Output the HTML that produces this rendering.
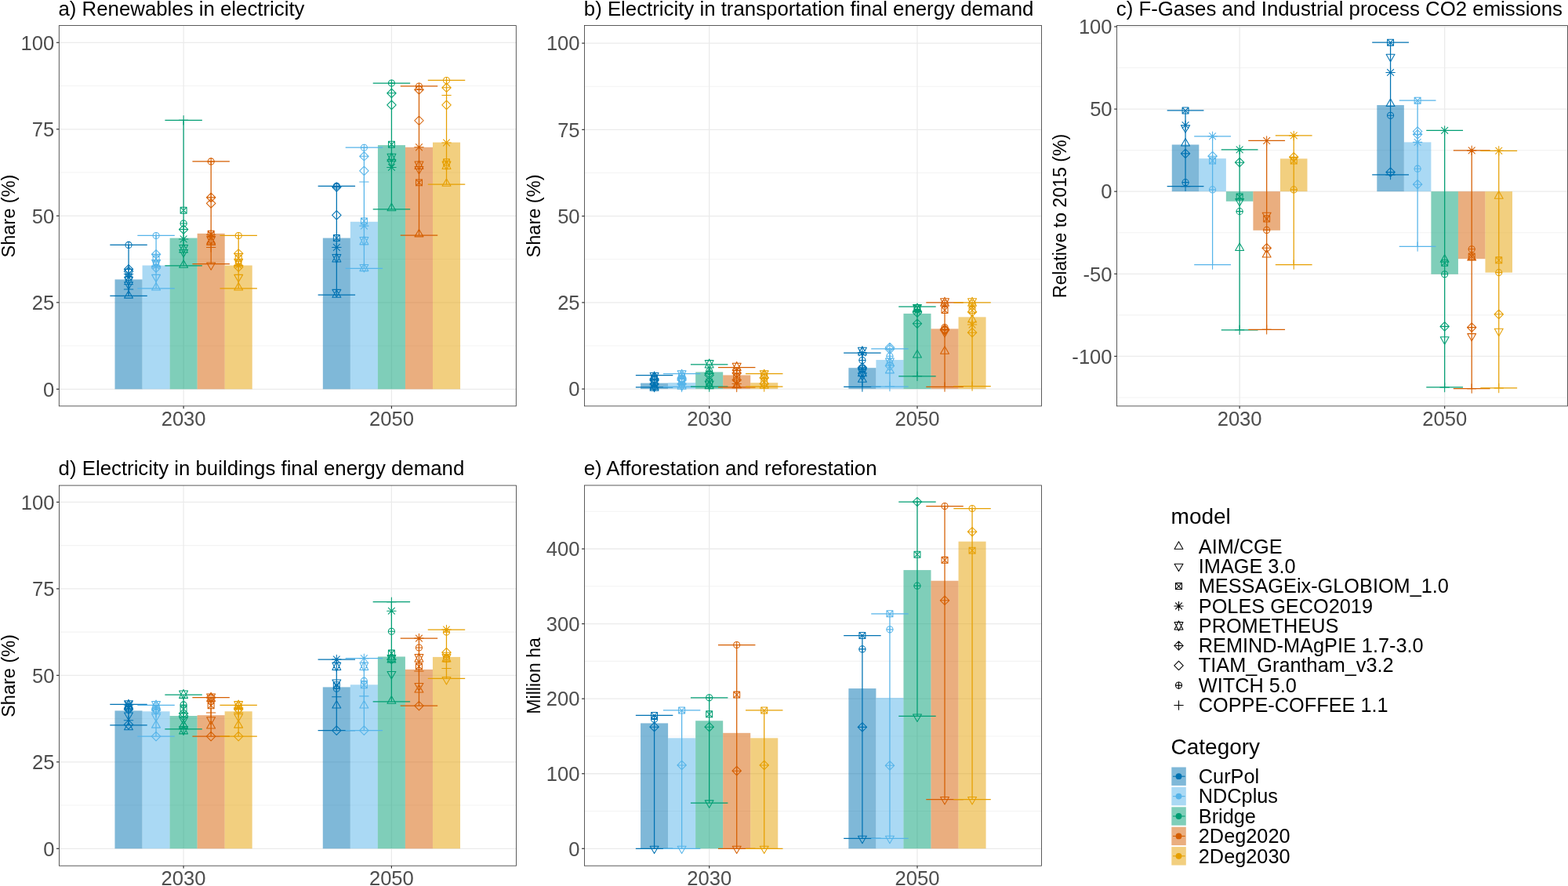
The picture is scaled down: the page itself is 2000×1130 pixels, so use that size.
<!DOCTYPE html>
<html><head><meta charset="utf-8"><title>Scenario indicators</title>
<style>
html,body{margin:0;padding:0;background:#fff;}
body{width:2000px;height:1130px;overflow:hidden;}
svg{display:block;}
text{font-family:"Liberation Sans",Arial,Helvetica,sans-serif;}
.tk{font-size:25.6px;fill:#4D4D4D;}
.ti{font-size:25.8px;fill:#000;}
.yl{font-size:24.2px;fill:#000;}
.lg{font-size:25.3px;fill:#000;}
.m{fill:none;stroke-width:1.05px;stroke-linecap:round;stroke-linejoin:round;}
.lt{font-size:27.2px;fill:#000;}
</style></head><body>
<svg width="2000" height="1130" viewBox="0 0 2000 1130">
<rect width="2000" height="1130" fill="#fff"/>
<line x1="75.3" x2="658.3" y1="441.05" y2="441.05" stroke="#F3F3F3" stroke-width="1.1"/><line x1="75.3" x2="658.3" y1="330.55" y2="330.55" stroke="#F3F3F3" stroke-width="1.1"/><line x1="75.3" x2="658.3" y1="220.05" y2="220.05" stroke="#F3F3F3" stroke-width="1.1"/><line x1="75.3" x2="658.3" y1="109.55" y2="109.55" stroke="#F3F3F3" stroke-width="1.1"/><line x1="75.3" x2="658.3" y1="496.3" y2="496.3" stroke="#EBEBEB" stroke-width="1.3"/><line x1="75.3" x2="658.3" y1="385.8" y2="385.8" stroke="#EBEBEB" stroke-width="1.3"/><line x1="75.3" x2="658.3" y1="275.3" y2="275.3" stroke="#EBEBEB" stroke-width="1.3"/><line x1="75.3" x2="658.3" y1="164.8" y2="164.8" stroke="#EBEBEB" stroke-width="1.3"/><line x1="75.3" x2="658.3" y1="54.3" y2="54.3" stroke="#EBEBEB" stroke-width="1.3"/><line x1="234.13" x2="234.13" y1="32.6" y2="517.9" stroke="#EBEBEB" stroke-width="1.3"/><line x1="499.44" x2="499.44" y1="32.6" y2="517.9" stroke="#EBEBEB" stroke-width="1.3"/><rect x="146.52" y="356.41" width="35.04" height="139.89" fill="#0072B2" fill-opacity="0.5"/><rect x="181.57" y="338.51" width="35.04" height="157.79" fill="#56B4E9" fill-opacity="0.5"/><rect x="216.61" y="303.59" width="35.04" height="192.71" fill="#009E73" fill-opacity="0.5"/><rect x="251.65" y="297.84" width="35.04" height="198.46" fill="#D55E00" fill-opacity="0.5"/><rect x="286.69" y="338.51" width="35.04" height="157.79" fill="#E69F00" fill-opacity="0.5"/><rect x="411.83" y="303.59" width="35.04" height="192.71" fill="#0072B2" fill-opacity="0.5"/><rect x="446.88" y="282.81" width="35.04" height="213.49" fill="#56B4E9" fill-opacity="0.5"/><rect x="481.92" y="185.13" width="35.04" height="311.17" fill="#009E73" fill-opacity="0.5"/><rect x="516.96" y="187.78" width="35.04" height="308.52" fill="#D55E00" fill-opacity="0.5"/><rect x="552" y="181.6" width="35.04" height="314.7" fill="#E69F00" fill-opacity="0.5"/><path d="M140.32 312.43H187.77M164.05 312.43V377.4M140.32 377.4H187.77" stroke="#0072B2" stroke-width="1.25" fill="none"/><path d="M175.36 300.49H222.82M199.09 300.49V367.9M175.36 367.9H222.82" stroke="#56B4E9" stroke-width="1.25" fill="none"/><path d="M210.4 153.31H257.86M234.13 153.31V338.95M210.4 338.95H257.86" stroke="#009E73" stroke-width="1.25" fill="none"/><path d="M245.44 205.91H292.9M269.17 205.91V336.74M245.44 336.74H292.9" stroke="#D55E00" stroke-width="1.25" fill="none"/><path d="M280.49 300.49H327.94M304.21 300.49V367.9M280.49 367.9H327.94" stroke="#E69F00" stroke-width="1.25" fill="none"/><path d="M405.63 237.29H453.08M429.36 237.29V376.08M405.63 376.08H453.08" stroke="#0072B2" stroke-width="1.25" fill="none"/><path d="M440.67 188.23H488.13M464.4 188.23V342.48M440.67 342.48H488.13" stroke="#56B4E9" stroke-width="1.25" fill="none"/><path d="M475.71 106.01H523.17M499.44 106.01V266.9M475.71 266.9H523.17" stroke="#009E73" stroke-width="1.25" fill="none"/><path d="M510.75 109.99H558.21M534.48 109.99V300.05M510.75 300.05H558.21" stroke="#D55E00" stroke-width="1.25" fill="none"/><path d="M545.8 102.48H593.25M569.52 102.48V235.08M545.8 235.08H593.25" stroke="#E69F00" stroke-width="1.25" fill="none"/><g class="m" stroke="#0072B2"><path d="M160 312.43H168.1M164.05 308.38V316.48M164.05 337.64L169.77 343.37L164.05 349.1L158.32 343.37ZM158.32 343.37H169.77M164.05 337.64V349.1M164.05 340.29L169.77 346.02L164.05 351.75L158.32 346.02ZM160 345.51L168.1 353.61M160 353.61L168.1 345.51M158.32 349.56H169.77M164.05 343.83V355.28M160.08 349.56h7.94v7.94h-7.94ZM160.08 349.56L168.01 357.5M160.08 357.5L168.01 349.56M164.05 364.25L169.5 353.23L158.59 353.23ZM164.05 351.66L169.5 362.68L158.59 362.68ZM164.05 369.11L169.5 359.67L158.59 359.67ZM158.32 369H169.77M164.05 363.28V374.73M164.05 370.66L169.5 380.11L158.59 380.11Z"/><circle cx="164.05" cy="312.43" r="4.05"/></g><g class="m" stroke="#56B4E9"><path d="M195.04 300.49H203.14M199.09 296.44V304.54M199.09 318.63L204.82 324.36L199.09 330.09L193.36 324.36ZM193.36 324.36H204.82M199.09 318.63V330.09M195.12 326.14h7.94v7.94h-7.94ZM195.12 326.14L203.06 334.08M195.12 334.08L203.06 326.14M199.09 342.59L204.54 331.57L193.63 331.57ZM199.09 330L204.54 341.02L193.63 341.02ZM195.04 335.34L203.14 343.44M195.04 343.44L203.14 335.34M193.36 339.39H204.82M199.09 333.66V345.12M199.09 335.87L204.82 341.6L199.09 347.33L193.36 341.6ZM199.09 359.83L204.54 350.38L193.63 350.38ZM199.09 360.5L204.54 369.94L193.63 369.94Z"/><circle cx="199.09" cy="300.49" r="4.05"/></g><g class="m" stroke="#009E73"><path d="M228.4 153.31H239.86M234.13 147.58V159.04M230.16 264.26h7.94v7.94h-7.94ZM230.16 264.26L238.1 272.2M230.16 272.2L238.1 264.26M230.08 285.02H238.18M234.13 280.97V289.07M234.13 286.81L239.86 292.54L234.13 298.27L228.4 292.54ZM228.4 292.54H239.86M234.13 286.81V298.27M230.08 300.86L238.18 308.96M230.08 308.96L238.18 300.86M228.4 304.91H239.86M234.13 299.19V310.64M234.13 323.59L239.58 312.57L228.68 312.57ZM234.13 310.99L239.58 322.01L228.68 322.01ZM234.13 328.01L239.58 318.56L228.68 318.56ZM234.13 331.77L239.58 341.21L228.68 341.21Z"/><circle cx="234.13" cy="285.02" r="4.05"/></g><g class="m" stroke="#D55E00"><path d="M265.12 205.91H273.22M269.17 201.86V209.96M269.17 246.15L274.9 251.87L269.17 257.6L263.44 251.87ZM263.44 251.87H274.9M269.17 246.15V257.6M269.17 253.66L274.9 259.39L269.17 265.12L263.44 259.39ZM265.2 294.31h7.94v7.94h-7.94ZM265.2 294.31L273.14 302.25M265.2 302.25L273.14 294.31M265.12 295.12L273.22 303.22M265.12 303.22L273.22 295.12M263.44 299.17H274.9M269.17 293.44V304.9M269.17 312.54L274.63 301.52L263.72 301.52ZM269.17 299.94L274.63 310.96L263.72 310.96ZM269.17 303.04L274.63 312.48L263.72 312.48ZM263.44 315.52H274.9M269.17 309.79V321.25M269.17 344.36L274.63 334.91L263.72 334.91Z"/><circle cx="269.17" cy="205.91" r="4.05"/></g><g class="m" stroke="#E69F00"><path d="M300.16 300.49H308.26M304.21 296.44V304.54M304.21 317.75L309.94 323.48L304.21 329.21L298.49 323.48ZM298.49 323.48H309.94M304.21 317.75V329.21M300.25 325.26h7.94v7.94h-7.94ZM300.25 325.26L308.18 333.19M300.25 333.19L308.18 325.26M304.21 341.27L309.67 330.25L298.76 330.25ZM304.21 328.67L309.67 339.69L298.76 339.69ZM300.16 334.46L308.26 342.56M300.16 342.56L308.26 334.46M298.49 338.51H309.94M304.21 332.78V344.23M304.21 334.99L309.94 340.72L304.21 346.44L298.49 340.72ZM304.21 359.83L309.67 350.38L298.76 350.38ZM304.21 360.5L309.67 369.94L298.76 369.94Z"/><circle cx="304.21" cy="300.49" r="4.05"/></g><g class="m" stroke="#0072B2"><path d="M425.31 237.29H433.41M429.36 233.24V241.34M429.36 232.89L435.08 238.61L429.36 244.34L423.63 238.61ZM423.63 238.61H435.08M429.36 232.89V244.34M429.36 268.69L435.08 274.42L429.36 280.14L423.63 274.42ZM425.39 299.62h7.94v7.94h-7.94ZM425.39 299.62L433.32 307.56M425.39 307.56L433.32 299.62M425.31 311.47L433.41 319.57M425.31 319.57L433.41 311.47M423.63 315.52H435.08M429.36 309.79V321.25M429.36 335.52L434.81 324.5L423.9 324.5ZM429.36 322.93L434.81 333.95L423.9 333.95ZM429.36 378.84L434.81 369.39L423.9 369.39ZM429.36 369.78L434.81 379.23L423.9 379.23Z"/><circle cx="429.36" cy="237.29" r="4.05"/></g><g class="m" stroke="#56B4E9"><path d="M460.35 188.23H468.45M464.4 184.18V192.28M464.4 193.55L470.13 199.28L464.4 205L458.67 199.28ZM458.67 199.28H470.13M464.4 193.55V205M464.4 212.11L470.13 217.84L464.4 223.57L458.67 217.84ZM458.67 231.98H470.13M464.4 226.26V237.71M460.43 277.96h7.94v7.94h-7.94ZM460.43 277.96L468.37 285.9M460.43 285.9L468.37 277.96M460.35 284.07L468.45 292.17M460.35 292.17L468.45 284.07M458.67 288.12H470.13M464.4 282.39V293.85M464.4 313.42L469.85 302.4L458.94 302.4ZM464.4 300.83L469.85 311.85L458.94 311.85ZM464.4 347.01L469.85 337.57L458.94 337.57ZM464.4 336.19L469.85 345.63L458.94 345.63Z"/><circle cx="464.4" cy="188.23" r="4.05"/></g><g class="m" stroke="#009E73"><path d="M495.39 106.01H503.49M499.44 101.96V110.06M499.44 113.1L505.17 118.83L499.44 124.56L493.71 118.83ZM493.71 118.83H505.17M499.44 113.1V124.56M499.44 128.13L505.17 133.86L499.44 139.59L493.71 133.86ZM495.47 180.28h7.94v7.94h-7.94ZM495.47 180.28L503.41 188.22M495.47 188.22L503.41 180.28M499.44 207.34L504.89 196.32L493.99 196.32ZM499.44 194.75L504.89 205.77L493.99 205.77ZM499.44 213.09L504.89 203.64L493.99 203.64ZM495.39 209.37L503.49 217.47M495.39 217.47L503.49 209.37M493.71 213.42H505.17M499.44 207.69V219.15M499.44 259.28L504.89 268.73L493.99 268.73Z"/><circle cx="499.44" cy="106.01" r="4.05"/></g><g class="m" stroke="#D55E00"><path d="M530.43 109.99H538.53M534.48 105.94V114.04M534.48 108.68L540.21 114.41L534.48 120.14L528.75 114.41ZM528.75 114.41H540.21M534.48 108.68V120.14M534.48 148.02L540.21 153.75L534.48 159.48L528.75 153.75ZM530.43 183.73L538.53 191.83M530.43 191.83L538.53 183.73M528.75 187.78H540.21M534.48 182.06V193.51M534.48 217.07L539.94 206.04L529.03 206.04ZM534.48 204.47L539.94 215.49L529.03 215.49ZM534.48 221.93L539.94 212.48L529.03 212.48ZM530.51 228.9h7.94v7.94h-7.94ZM530.51 228.9L538.45 236.84M530.51 236.84L538.45 228.9M534.48 292.43L539.94 301.88L529.03 301.88Z"/><circle cx="534.48" cy="109.99" r="4.05"/></g><g class="m" stroke="#E69F00"><path d="M565.47 102.48H573.57M569.52 98.43V106.53M569.52 106.03L575.25 111.76L569.52 117.49L563.8 111.76ZM563.8 111.76H575.25M569.52 106.03V117.49M563.8 121.48H575.25M569.52 115.76V127.21M569.52 128.13L575.25 133.86L569.52 139.59L563.8 133.86ZM565.47 177.99L573.57 186.09M565.47 186.09L573.57 177.99M563.8 182.04H575.25M569.52 176.31V187.77M565.56 202.82h7.94v7.94h-7.94ZM565.56 202.82L573.49 210.76M565.56 210.76L573.49 202.82M569.52 217.07L574.98 206.04L564.07 206.04ZM569.52 204.47L574.98 215.49L564.07 215.49ZM569.52 227.9L574.98 237.34L564.07 237.34Z"/><circle cx="569.52" cy="102.48" r="4.05"/></g><rect x="75.3" y="32.6" width="583" height="485.3" fill="none" stroke="#333" stroke-width="0.8"/><line x1="71.9" x2="75.3" y1="496.3" y2="496.3" stroke="#333" stroke-width="1.2"/><text x="69.3" y="505.5" text-anchor="end" class="tk">0</text><line x1="71.9" x2="75.3" y1="385.8" y2="385.8" stroke="#333" stroke-width="1.2"/><text x="69.3" y="395" text-anchor="end" class="tk">25</text><line x1="71.9" x2="75.3" y1="275.3" y2="275.3" stroke="#333" stroke-width="1.2"/><text x="69.3" y="284.5" text-anchor="end" class="tk">50</text><line x1="71.9" x2="75.3" y1="164.8" y2="164.8" stroke="#333" stroke-width="1.2"/><text x="69.3" y="174" text-anchor="end" class="tk">75</text><line x1="71.9" x2="75.3" y1="54.3" y2="54.3" stroke="#333" stroke-width="1.2"/><text x="69.3" y="63.5" text-anchor="end" class="tk">100</text><line x1="234.13" x2="234.13" y1="517.9" y2="521.3" stroke="#333" stroke-width="1.2"/><text x="234.13" y="542.7" text-anchor="middle" class="tk">2030</text><line x1="499.44" x2="499.44" y1="517.9" y2="521.3" stroke="#333" stroke-width="1.2"/><text x="499.44" y="542.7" text-anchor="middle" class="tk">2050</text><text x="74.5" y="19.6" class="ti">a) Renewables in electricity</text><text transform="translate(18.7 275.55) rotate(-90)" text-anchor="middle" class="yl" textLength="106" lengthAdjust="spacingAndGlyphs">Share (%)</text>
<line x1="745.6" x2="1328.5" y1="440.98" y2="440.98" stroke="#F3F3F3" stroke-width="1.1"/><line x1="745.6" x2="1328.5" y1="330.73" y2="330.73" stroke="#F3F3F3" stroke-width="1.1"/><line x1="745.6" x2="1328.5" y1="220.48" y2="220.48" stroke="#F3F3F3" stroke-width="1.1"/><line x1="745.6" x2="1328.5" y1="110.23" y2="110.23" stroke="#F3F3F3" stroke-width="1.1"/><line x1="745.6" x2="1328.5" y1="496.1" y2="496.1" stroke="#EBEBEB" stroke-width="1.3"/><line x1="745.6" x2="1328.5" y1="385.85" y2="385.85" stroke="#EBEBEB" stroke-width="1.3"/><line x1="745.6" x2="1328.5" y1="275.6" y2="275.6" stroke="#EBEBEB" stroke-width="1.3"/><line x1="745.6" x2="1328.5" y1="165.35" y2="165.35" stroke="#EBEBEB" stroke-width="1.3"/><line x1="745.6" x2="1328.5" y1="55.1" y2="55.1" stroke="#EBEBEB" stroke-width="1.3"/><line x1="904.66" x2="904.66" y1="32.5" y2="517.9" stroke="#EBEBEB" stroke-width="1.3"/><line x1="1169.97" x2="1169.97" y1="32.5" y2="517.9" stroke="#EBEBEB" stroke-width="1.3"/><rect x="817.05" y="488.6" width="35.04" height="7.5" fill="#0072B2" fill-opacity="0.5"/><rect x="852.1" y="488.16" width="35.04" height="7.94" fill="#56B4E9" fill-opacity="0.5"/><rect x="887.14" y="474.49" width="35.04" height="21.61" fill="#009E73" fill-opacity="0.5"/><rect x="922.18" y="478.46" width="35.04" height="17.64" fill="#D55E00" fill-opacity="0.5"/><rect x="957.22" y="488.16" width="35.04" height="7.94" fill="#E69F00" fill-opacity="0.5"/><rect x="1082.36" y="469.2" width="35.04" height="26.9" fill="#0072B2" fill-opacity="0.5"/><rect x="1117.41" y="459.06" width="35.04" height="37.04" fill="#56B4E9" fill-opacity="0.5"/><rect x="1152.45" y="399.96" width="35.04" height="96.14" fill="#009E73" fill-opacity="0.5"/><rect x="1187.49" y="419.37" width="35.04" height="76.73" fill="#D55E00" fill-opacity="0.5"/><rect x="1222.53" y="404.37" width="35.04" height="91.73" fill="#E69F00" fill-opacity="0.5"/><path d="M810.85 478.64H858.3M834.58 478.64V493.9M810.85 493.9H858.3" stroke="#0072B2" stroke-width="1.25" fill="none"/><path d="M845.89 476.7H893.35M869.62 476.7V493.45M845.89 493.45H893.35" stroke="#56B4E9" stroke-width="1.25" fill="none"/><path d="M880.93 464.97H928.39M904.66 464.97V493.23M880.93 493.23H928.39" stroke="#009E73" stroke-width="1.25" fill="none"/><path d="M915.97 468.54H963.43M939.7 468.54V493.9M915.97 493.9H963.43" stroke="#D55E00" stroke-width="1.25" fill="none"/><path d="M951.02 476.7H998.47M974.74 476.7V493.01M951.02 493.01H998.47" stroke="#E69F00" stroke-width="1.25" fill="none"/><path d="M1076.16 450.24H1123.61M1099.89 450.24V493.45M1076.16 493.45H1123.61" stroke="#0072B2" stroke-width="1.25" fill="none"/><path d="M1111.2 444.94H1158.66M1134.93 444.94V493.01M1111.2 493.01H1158.66" stroke="#56B4E9" stroke-width="1.25" fill="none"/><path d="M1146.24 391.14H1193.7M1169.97 391.14V479.78M1146.24 479.78H1193.7" stroke="#009E73" stroke-width="1.25" fill="none"/><path d="M1181.28 385.85H1228.74M1205.01 385.85V493.45M1181.28 493.45H1228.74" stroke="#D55E00" stroke-width="1.25" fill="none"/><path d="M1216.33 385.85H1263.78M1240.05 385.85V492.57M1216.33 492.57H1263.78" stroke="#E69F00" stroke-width="1.25" fill="none"/><g class="m" stroke="#0072B2"><path d="M834.58 486.52L840.03 475.5L829.12 475.5ZM834.58 473.93L840.03 484.95L829.12 484.95ZM830.53 480.67H838.63M834.58 476.62V484.72M834.58 477.58L840.3 483.31L834.58 489.04L828.85 483.31ZM828.85 483.31H840.3M834.58 477.58V489.04M834.58 479.35L840.3 485.08L834.58 490.8L828.85 485.08ZM830.61 484.63h7.94v7.94h-7.94ZM830.61 484.63L838.54 492.57M830.61 492.57L838.54 484.63M830.53 486.76L838.63 494.86M830.53 494.86L838.63 486.76M828.85 490.81H840.3M834.58 485.08V496.54M834.58 498.43L840.03 488.98L829.12 488.98ZM834.58 487.16L840.03 496.6L829.12 496.6ZM834.58 499.75L840.03 488.73L829.12 488.73ZM834.58 487.16L840.03 498.18L829.12 498.18ZM828.85 493.9H840.3M834.58 488.17V499.62"/><circle cx="834.58" cy="480.67" r="4.05"/></g><g class="m" stroke="#56B4E9"><path d="M869.62 483.88L875.07 472.85L864.16 472.85ZM869.62 471.28L875.07 482.3L864.16 482.3ZM865.57 478.9H873.67M869.62 474.85V482.95M869.62 477.14L875.35 482.87L869.62 488.6L863.89 482.87ZM863.89 482.87H875.35M869.62 477.14V488.6M869.62 478.91L875.35 484.63L869.62 490.36L863.89 484.63ZM865.65 483.75h7.94v7.94h-7.94ZM865.65 483.75L873.59 491.69M865.65 491.69L873.59 483.75M865.57 485.88L873.67 493.98M865.57 493.98L873.67 485.88M863.89 489.93H875.35M869.62 484.2V495.65M869.62 498.43L875.07 488.98L864.16 488.98ZM869.62 486.71L875.07 496.16L864.16 496.16ZM863.89 493.9H875.35M869.62 488.17V499.62"/><circle cx="869.62" cy="478.9" r="4.05"/></g><g class="m" stroke="#009E73"><path d="M904.66 470.65L910.11 459.62L899.21 459.62ZM904.66 458.05L910.11 469.07L899.21 469.07ZM900.61 473.61H908.71M904.66 469.56V477.66M904.66 470.53L910.39 476.25L904.66 481.98L898.93 476.25ZM898.93 476.25H910.39M904.66 470.53V481.98M904.66 472.73L910.39 478.46L904.66 484.19L898.93 478.46ZM900.69 483.31h7.94v7.94h-7.94ZM900.69 483.31L908.63 491.25M900.69 491.25L908.63 483.31M904.66 497.11L910.11 486.08L899.21 486.08ZM904.66 484.51L910.11 495.53L899.21 495.53ZM904.66 486.27L910.11 495.72L899.21 495.72ZM898.93 493.45H910.39M904.66 487.73V499.18"/><circle cx="904.66" cy="473.61" r="4.05"/></g><g class="m" stroke="#D55E00"><path d="M939.7 474.17L945.16 463.15L934.25 463.15ZM939.7 461.58L945.16 472.6L934.25 472.6ZM935.65 472.73H943.75M939.7 468.68V476.78M939.7 470.09L945.43 475.81L939.7 481.54L933.97 475.81ZM933.97 475.81H945.43M939.7 470.09V481.54M935.73 477.14h7.94v7.94h-7.94ZM935.73 477.14L943.67 485.07M935.73 485.07L943.67 477.14M939.7 478.91L945.43 484.63L939.7 490.36L933.97 484.63ZM935.65 485.44L943.75 493.54M935.65 493.54L943.75 485.44M933.97 489.49H945.43M939.7 483.76V495.21M939.7 485.39L945.16 494.84L934.25 494.84ZM933.97 493.9H945.43M939.7 488.17V499.62"/><circle cx="939.7" cy="472.73" r="4.05"/></g><g class="m" stroke="#E69F00"><path d="M974.74 483.88L980.2 472.85L969.29 472.85ZM974.74 471.28L980.2 482.3L969.29 482.3ZM970.69 478.02H978.79M974.74 473.97V482.07M974.74 476.26L980.47 481.99L974.74 487.72L969.02 481.99ZM969.02 481.99H980.47M974.74 476.26V487.72M970.78 483.31h7.94v7.94h-7.94ZM970.78 483.31L978.71 491.25M970.78 491.25L978.71 483.31M974.74 483.76L980.47 489.49L974.74 495.21L969.02 489.49ZM974.74 485.83L980.2 495.28L969.29 495.28ZM969.02 493.45H980.47M974.74 487.73V499.18"/><circle cx="974.74" cy="478.02" r="4.05"/></g><g class="m" stroke="#0072B2"><path d="M1099.89 454.33L1105.34 443.31L1094.43 443.31ZM1099.89 441.73L1105.34 452.75L1094.43 452.75ZM1095.84 445.75L1103.94 453.85M1095.84 453.85L1103.94 445.75M1094.16 449.8H1105.61M1099.89 444.07V455.52M1095.84 459.5H1103.94M1099.89 455.45V463.55M1099.89 463.03L1105.61 468.76L1099.89 474.49L1094.16 468.76ZM1094.16 468.76H1105.61M1099.89 463.03V474.49M1095.92 466.55h7.94v7.94h-7.94ZM1095.92 466.55L1103.85 474.49M1095.92 474.49L1103.85 466.55M1099.89 481.23L1105.34 470.21L1094.43 470.21ZM1099.89 468.63L1105.34 479.66L1094.43 479.66ZM1099.89 485.2L1105.34 475.75L1094.43 475.75ZM1099.89 477.89L1105.34 487.34L1094.43 487.34ZM1094.16 493.45H1105.61M1099.89 487.73V499.18"/><circle cx="1099.89" cy="459.5" r="4.05"/></g><g class="m" stroke="#56B4E9"><path d="M1134.93 437.45L1140.66 443.18L1134.93 448.91L1129.2 443.18ZM1134.93 439.66L1140.66 445.38L1134.93 451.11L1129.2 445.38ZM1129.2 445.38H1140.66M1134.93 439.66V451.11M1130.88 454.21H1138.98M1134.93 450.16V458.26M1134.93 468L1140.38 456.98L1129.47 456.98ZM1134.93 455.4L1140.38 466.43L1129.47 466.43ZM1134.93 460.83L1140.66 466.55L1134.93 472.28L1129.2 466.55ZM1129.2 466.55H1140.66M1134.93 460.83V472.28M1134.93 466.43L1140.38 475.88L1129.47 475.88ZM1129.2 493.01H1140.66M1134.93 487.29V498.74"/><circle cx="1134.93" cy="454.21" r="4.05"/></g><g class="m" stroke="#009E73"><path d="M1169.97 399.65L1175.42 388.62L1164.52 388.62ZM1169.97 387.05L1175.42 398.07L1164.52 398.07ZM1166 388.94h7.94v7.94h-7.94ZM1166 388.94L1173.94 396.88M1166 396.88L1173.94 388.94M1165.92 395.11H1174.02M1169.97 391.06V399.16M1165.92 392.82L1174.02 400.93M1165.92 400.93L1174.02 392.82M1164.24 396.88H1175.7M1169.97 391.15V402.6M1169.97 392.91L1175.7 398.64L1169.97 404.37L1164.24 398.64ZM1169.97 407.02L1175.7 412.75L1169.97 418.48L1164.24 412.75ZM1164.24 412.75H1175.7M1169.97 407.02V418.48M1169.97 446.58L1175.42 456.03L1164.52 456.03ZM1164.24 479.78H1175.7M1169.97 474.06V485.51"/><circle cx="1169.97" cy="395.11" r="4.05"/></g><g class="m" stroke="#D55E00"><path d="M1205.01 391.71L1210.47 380.69L1199.56 380.69ZM1205.01 379.11L1210.47 390.13L1199.56 390.13ZM1200.96 386.73H1209.06M1205.01 382.68V390.78M1201.04 391.58h7.94v7.94h-7.94ZM1201.04 391.58L1208.98 399.52M1201.04 399.52L1208.98 391.58M1200.96 417.6H1209.06M1205.01 413.55V421.65M1205.01 414.08L1210.74 419.81L1205.01 425.53L1199.28 419.81ZM1199.28 419.81H1210.74M1205.01 414.08V425.53M1205.01 415.4L1210.74 421.13L1205.01 426.86L1199.28 421.13ZM1205.01 430.07L1210.47 420.63L1199.56 420.63ZM1205.01 441.73L1210.47 451.18L1199.56 451.18ZM1199.28 493.45H1210.74M1205.01 487.73V499.18"/><circle cx="1205.01" cy="386.73" r="4.05"/><circle cx="1205.01" cy="417.6" r="4.05"/></g><g class="m" stroke="#E69F00"><path d="M1240.05 391.71L1245.51 380.69L1234.6 380.69ZM1240.05 379.11L1245.51 390.13L1234.6 390.13ZM1236 386.73H1244.1M1240.05 382.68V390.78M1236.09 391.58h7.94v7.94h-7.94ZM1236.09 391.58L1244.02 399.52M1236.09 399.52L1244.02 391.58M1240.05 392.03L1245.78 397.76L1240.05 403.48L1234.33 397.76ZM1240.05 401.6L1245.51 411.05L1234.6 411.05ZM1236 410.02L1244.1 418.12M1236 418.12L1244.1 410.02M1234.33 414.07H1245.78M1240.05 408.35V419.8M1240.05 418.49L1245.78 424.22L1240.05 429.94L1234.33 424.22ZM1234.33 424.22H1245.78M1240.05 418.49V429.94M1234.33 492.57H1245.78M1240.05 486.84V498.3"/><circle cx="1240.05" cy="386.73" r="4.05"/></g><rect x="745.6" y="32.5" width="582.9" height="485.4" fill="none" stroke="#333" stroke-width="0.8"/><line x1="742.2" x2="745.6" y1="496.1" y2="496.1" stroke="#333" stroke-width="1.2"/><text x="739.6" y="505.3" text-anchor="end" class="tk">0</text><line x1="742.2" x2="745.6" y1="385.85" y2="385.85" stroke="#333" stroke-width="1.2"/><text x="739.6" y="395.05" text-anchor="end" class="tk">25</text><line x1="742.2" x2="745.6" y1="275.6" y2="275.6" stroke="#333" stroke-width="1.2"/><text x="739.6" y="284.8" text-anchor="end" class="tk">50</text><line x1="742.2" x2="745.6" y1="165.35" y2="165.35" stroke="#333" stroke-width="1.2"/><text x="739.6" y="174.55" text-anchor="end" class="tk">75</text><line x1="742.2" x2="745.6" y1="55.1" y2="55.1" stroke="#333" stroke-width="1.2"/><text x="739.6" y="64.3" text-anchor="end" class="tk">100</text><line x1="904.66" x2="904.66" y1="517.9" y2="521.3" stroke="#333" stroke-width="1.2"/><text x="904.66" y="542.7" text-anchor="middle" class="tk">2030</text><line x1="1169.97" x2="1169.97" y1="517.9" y2="521.3" stroke="#333" stroke-width="1.2"/><text x="1169.97" y="542.7" text-anchor="middle" class="tk">2050</text><text x="744.8" y="19.5" class="ti">b) Electricity in transportation final energy demand</text><text transform="translate(689 275.5) rotate(-90)" text-anchor="middle" class="yl" textLength="106" lengthAdjust="spacingAndGlyphs">Share (%)</text>
<line x1="1424.6" x2="1999.4" y1="506.95" y2="506.95" stroke="#F3F3F3" stroke-width="1.1"/><line x1="1424.6" x2="1999.4" y1="401.85" y2="401.85" stroke="#F3F3F3" stroke-width="1.1"/><line x1="1424.6" x2="1999.4" y1="296.75" y2="296.75" stroke="#F3F3F3" stroke-width="1.1"/><line x1="1424.6" x2="1999.4" y1="191.65" y2="191.65" stroke="#F3F3F3" stroke-width="1.1"/><line x1="1424.6" x2="1999.4" y1="86.55" y2="86.55" stroke="#F3F3F3" stroke-width="1.1"/><line x1="1424.6" x2="1999.4" y1="454.4" y2="454.4" stroke="#EBEBEB" stroke-width="1.3"/><line x1="1424.6" x2="1999.4" y1="349.3" y2="349.3" stroke="#EBEBEB" stroke-width="1.3"/><line x1="1424.6" x2="1999.4" y1="244.2" y2="244.2" stroke="#EBEBEB" stroke-width="1.3"/><line x1="1424.6" x2="1999.4" y1="139.1" y2="139.1" stroke="#EBEBEB" stroke-width="1.3"/><line x1="1424.6" x2="1999.4" y1="34" y2="34" stroke="#EBEBEB" stroke-width="1.3"/><line x1="1581.13" x2="1581.13" y1="32.6" y2="517.9" stroke="#EBEBEB" stroke-width="1.3"/><line x1="1842.66" x2="1842.66" y1="32.6" y2="517.9" stroke="#EBEBEB" stroke-width="1.3"/><rect x="1494.77" y="184.5" width="34.54" height="59.7" fill="#0072B2" fill-opacity="0.5"/><rect x="1529.32" y="202.16" width="34.54" height="42.04" fill="#56B4E9" fill-opacity="0.5"/><rect x="1563.86" y="244.2" width="34.54" height="12.61" fill="#009E73" fill-opacity="0.5"/><rect x="1598.4" y="244.2" width="34.54" height="49.61" fill="#D55E00" fill-opacity="0.5"/><rect x="1632.94" y="202.37" width="34.54" height="41.83" fill="#E69F00" fill-opacity="0.5"/><rect x="1756.3" y="134.06" width="34.54" height="110.14" fill="#0072B2" fill-opacity="0.5"/><rect x="1790.85" y="181.35" width="34.54" height="62.85" fill="#56B4E9" fill-opacity="0.5"/><rect x="1825.39" y="244.2" width="34.54" height="105.52" fill="#009E73" fill-opacity="0.5"/><rect x="1859.93" y="244.2" width="34.54" height="85.97" fill="#D55E00" fill-opacity="0.5"/><rect x="1894.47" y="244.2" width="34.54" height="103.42" fill="#E69F00" fill-opacity="0.5"/><path d="M1488.65 140.99H1535.43M1512.04 140.99V237.68M1488.65 237.68H1535.43" stroke="#0072B2" stroke-width="1.25" fill="none"/><path d="M1523.2 173.78H1569.98M1546.59 173.78V337.53M1523.2 337.53H1569.98" stroke="#56B4E9" stroke-width="1.25" fill="none"/><path d="M1557.74 190.81H1604.52M1581.13 190.81V420.77M1557.74 420.77H1604.52" stroke="#009E73" stroke-width="1.25" fill="none"/><path d="M1592.28 179.46H1639.06M1615.67 179.46V420.35M1592.28 420.35H1639.06" stroke="#D55E00" stroke-width="1.25" fill="none"/><path d="M1626.83 172.94H1673.61M1650.22 172.94V337.53M1626.83 337.53H1673.61" stroke="#E69F00" stroke-width="1.25" fill="none"/><path d="M1750.18 54.18H1796.96M1773.57 54.18V222.97M1750.18 222.97H1796.96" stroke="#0072B2" stroke-width="1.25" fill="none"/><path d="M1784.73 128.17H1831.51M1808.12 128.17V314.41M1784.73 314.41H1831.51" stroke="#56B4E9" stroke-width="1.25" fill="none"/><path d="M1819.27 166.43H1866.05M1842.66 166.43V493.92M1819.27 493.92H1866.05" stroke="#009E73" stroke-width="1.25" fill="none"/><path d="M1853.81 191.86H1900.59M1877.2 191.86V495.6M1853.81 495.6H1900.59" stroke="#D55E00" stroke-width="1.25" fill="none"/><path d="M1888.36 192.28H1935.14M1911.75 192.28V494.97M1888.36 494.97H1935.14" stroke="#E69F00" stroke-width="1.25" fill="none"/><g class="m" stroke="#0072B2"><path d="M1508.08 137.02h7.94v7.94h-7.94ZM1508.08 137.02L1516.01 144.96M1508.08 144.96L1516.01 137.02M1507.99 155.65L1516.09 163.75M1507.99 163.75L1516.09 155.65M1506.32 159.7H1517.77M1512.04 153.97V165.43M1512.04 169.36L1517.5 159.91L1506.59 159.91ZM1512.04 176.52L1517.5 185.97L1506.59 185.97ZM1512.04 190.13L1517.77 195.85L1512.04 201.58L1506.32 195.85ZM1506.32 195.85H1517.77M1512.04 190.13V201.58M1507.99 232.64H1516.09M1512.04 228.59V236.69M1506.32 237.68H1517.77M1512.04 231.96V243.41"/><circle cx="1512.04" cy="232.64" r="4.05"/></g><g class="m" stroke="#56B4E9"><path d="M1542.54 169.73L1550.64 177.83M1542.54 177.83L1550.64 169.73M1540.86 173.78H1552.31M1546.59 168.06V179.51M1546.59 193.49L1552.31 199.22L1546.59 204.94L1540.86 199.22ZM1540.86 199.22H1552.31M1546.59 193.49V204.94M1542.62 201.13h7.94v7.94h-7.94ZM1542.62 201.13L1550.56 209.07M1542.62 209.07L1550.56 201.13M1542.54 241.89H1550.64M1546.59 237.84V245.94M1540.86 337.53H1552.31M1546.59 331.8V343.26"/><circle cx="1546.59" cy="241.89" r="4.05"/></g><g class="m" stroke="#009E73"><path d="M1577.08 186.76L1585.18 194.86M1577.08 194.86L1585.18 186.76M1575.4 190.81H1586.86M1581.13 185.08V196.54M1581.13 201.48L1586.86 207.2L1581.13 212.93L1575.4 207.2ZM1575.4 207.2H1586.86M1581.13 201.48V212.93M1577.16 246.96h7.94v7.94h-7.94ZM1577.16 246.96L1585.1 254.9M1577.16 254.9L1585.1 246.96M1581.13 262.9L1586.58 253.45L1575.68 253.45ZM1577.08 269.63H1585.18M1581.13 265.58V273.68M1581.13 310L1586.58 319.45L1575.68 319.45ZM1575.4 420.77H1586.86M1581.13 415.04V426.5"/><circle cx="1581.13" cy="269.63" r="4.05"/></g><g class="m" stroke="#D55E00"><path d="M1611.62 175.41L1619.72 183.51M1611.62 183.51L1619.72 175.41M1609.95 179.46H1621.4M1615.67 173.73V185.19M1615.67 280.77L1621.13 271.32L1610.22 271.32ZM1611.7 275.12h7.94v7.94h-7.94ZM1611.7 275.12L1619.64 283.06M1611.7 283.06L1619.64 275.12M1611.62 293.39H1619.72M1615.67 289.34V297.44M1615.67 310.57L1621.4 316.3L1615.67 322.03L1609.95 316.3ZM1609.95 316.3H1621.4M1615.67 310.57V322.03M1615.67 318.62L1621.13 328.07L1610.22 328.07ZM1609.95 420.35H1621.4M1615.67 414.62V426.08"/><circle cx="1615.67" cy="293.39" r="4.05"/></g><g class="m" stroke="#E69F00"><path d="M1646.17 168.89L1654.27 176.99M1646.17 176.99L1654.27 168.89M1644.49 172.94H1655.94M1650.22 167.21V178.67M1650.22 194.54L1655.94 200.27L1650.22 206L1644.49 200.27ZM1644.49 200.27H1655.94M1650.22 194.54V206M1646.25 201.13h7.94v7.94h-7.94ZM1646.25 201.13L1654.18 209.07M1646.25 209.07L1654.18 201.13M1646.17 241.89H1654.27M1650.22 237.84V245.94M1644.49 337.53H1655.94M1650.22 331.8V343.26"/><circle cx="1650.22" cy="241.89" r="4.05"/></g><g class="m" stroke="#0072B2"><path d="M1769.61 50.21h7.94v7.94h-7.94ZM1769.61 50.21L1777.54 58.15M1769.61 58.15L1777.54 50.21M1773.57 78.76L1779.03 69.32L1768.12 69.32ZM1769.52 88.39L1777.62 96.49M1769.52 96.49L1777.62 88.39M1767.85 92.44H1779.3M1773.57 86.71V98.16M1773.57 126.08L1779.03 135.52L1768.12 135.52ZM1769.52 147.3H1777.62M1773.57 143.25V151.35M1773.57 213.88L1779.3 219.61L1773.57 225.33L1767.85 219.61ZM1767.85 219.61H1779.3M1773.57 213.88V225.33M1767.85 222.97H1779.3M1773.57 217.24V228.7"/><circle cx="1773.57" cy="147.3" r="4.05"/></g><g class="m" stroke="#56B4E9"><path d="M1804.15 124.2h7.94v7.94h-7.94ZM1804.15 124.2L1812.09 132.14M1804.15 132.14L1812.09 124.2M1808.12 161.96L1813.84 167.69L1808.12 173.41L1802.39 167.69ZM1808.12 165.74L1813.84 171.47L1808.12 177.2L1802.39 171.47ZM1802.39 171.47H1813.84M1808.12 165.74V177.2M1804.07 177.3L1812.17 185.4M1804.07 185.4L1812.17 177.3M1802.39 181.35H1813.84M1808.12 175.62V187.08M1804.07 215.19H1812.17M1808.12 211.14V219.24M1808.12 229.43L1813.84 235.16L1808.12 240.89L1802.39 235.16ZM1802.39 235.16H1813.84M1808.12 229.43V240.89M1802.39 314.41H1813.84M1808.12 308.68V320.13"/><circle cx="1808.12" cy="215.19" r="4.05"/></g><g class="m" stroke="#009E73"><path d="M1838.61 162.38L1846.71 170.48M1838.61 170.48L1846.71 162.38M1836.93 166.43H1848.39M1842.66 160.7V172.15M1842.66 324.71L1848.11 334.16L1837.21 334.16ZM1838.69 331.25h7.94v7.94h-7.94ZM1838.69 331.25L1846.63 339.19M1838.69 339.19L1846.63 331.25M1838.61 349.72H1846.71M1842.66 345.67V353.77M1842.66 410.63L1848.39 416.35L1842.66 422.08L1836.93 416.35ZM1836.93 416.35H1848.39M1842.66 410.63V422.08M1842.66 439.26L1848.11 429.81L1837.21 429.81ZM1836.93 493.92H1848.39M1842.66 488.19V499.65"/><circle cx="1842.66" cy="349.72" r="4.05"/></g><g class="m" stroke="#D55E00"><path d="M1873.15 187.81L1881.25 195.91M1873.15 195.91L1881.25 187.81M1871.48 191.86H1882.93M1877.2 186.13V197.59M1873.15 317.77H1881.25M1877.2 313.72V321.82M1873.23 323.05h7.94v7.94h-7.94ZM1873.23 323.05L1881.17 330.99M1873.23 330.99L1881.17 323.05M1877.2 322.61L1882.66 332.06L1871.75 332.06ZM1877.2 411.89L1882.93 417.62L1877.2 423.34L1871.48 417.62ZM1871.48 417.62H1882.93M1877.2 411.89V423.34M1877.2 435.05L1882.66 425.61L1871.75 425.61ZM1871.48 495.6H1882.93M1877.2 489.87V501.33"/><circle cx="1877.2" cy="317.77" r="4.05"/></g><g class="m" stroke="#E69F00"><path d="M1907.7 188.23L1915.8 196.33M1907.7 196.33L1915.8 188.23M1906.02 192.28H1917.47M1911.75 186.55V198.01M1911.75 243.79L1917.2 253.23L1906.29 253.23ZM1907.78 327.88h7.94v7.94h-7.94ZM1907.78 327.88L1915.71 335.82M1907.78 335.82L1915.71 327.88M1907.7 347.62H1915.8M1911.75 343.57V351.67M1911.75 395.07L1917.47 400.8L1911.75 406.53L1906.02 400.8ZM1906.02 400.8H1917.47M1911.75 395.07V406.53M1911.75 428.75L1917.2 419.3L1906.29 419.3ZM1906.02 494.97H1917.47M1911.75 489.24V500.7"/><circle cx="1911.75" cy="347.62" r="4.05"/></g><rect x="1424.6" y="32.6" width="574.8" height="485.3" fill="none" stroke="#333" stroke-width="0.8"/><line x1="1421.2" x2="1424.6" y1="454.4" y2="454.4" stroke="#333" stroke-width="1.2"/><text x="1418.6" y="463.6" text-anchor="end" class="tk">-100</text><line x1="1421.2" x2="1424.6" y1="349.3" y2="349.3" stroke="#333" stroke-width="1.2"/><text x="1418.6" y="358.5" text-anchor="end" class="tk">-50</text><line x1="1421.2" x2="1424.6" y1="244.2" y2="244.2" stroke="#333" stroke-width="1.2"/><text x="1418.6" y="253.4" text-anchor="end" class="tk">0</text><line x1="1421.2" x2="1424.6" y1="139.1" y2="139.1" stroke="#333" stroke-width="1.2"/><text x="1418.6" y="148.3" text-anchor="end" class="tk">50</text><line x1="1421.2" x2="1424.6" y1="34" y2="34" stroke="#333" stroke-width="1.2"/><text x="1418.6" y="43.2" text-anchor="end" class="tk">100</text><line x1="1581.13" x2="1581.13" y1="517.9" y2="521.3" stroke="#333" stroke-width="1.2"/><text x="1581.13" y="542.7" text-anchor="middle" class="tk">2030</text><line x1="1842.66" x2="1842.66" y1="517.9" y2="521.3" stroke="#333" stroke-width="1.2"/><text x="1842.66" y="542.7" text-anchor="middle" class="tk">2050</text><text x="1423.8" y="19.6" class="ti">c) F-Gases and Industrial process CO2 emissions</text><text transform="translate(1359.7 275.55) rotate(-90)" text-anchor="middle" class="yl" textLength="209.5" lengthAdjust="spacingAndGlyphs">Relative to 2015 (%)</text>
<line x1="75.4" x2="658.5" y1="1027.06" y2="1027.06" stroke="#F3F3F3" stroke-width="1.1"/><line x1="75.4" x2="658.5" y1="916.59" y2="916.59" stroke="#F3F3F3" stroke-width="1.1"/><line x1="75.4" x2="658.5" y1="806.11" y2="806.11" stroke="#F3F3F3" stroke-width="1.1"/><line x1="75.4" x2="658.5" y1="695.64" y2="695.64" stroke="#F3F3F3" stroke-width="1.1"/><line x1="75.4" x2="658.5" y1="1082.3" y2="1082.3" stroke="#EBEBEB" stroke-width="1.3"/><line x1="75.4" x2="658.5" y1="971.82" y2="971.82" stroke="#EBEBEB" stroke-width="1.3"/><line x1="75.4" x2="658.5" y1="861.35" y2="861.35" stroke="#EBEBEB" stroke-width="1.3"/><line x1="75.4" x2="658.5" y1="750.88" y2="750.88" stroke="#EBEBEB" stroke-width="1.3"/><line x1="75.4" x2="658.5" y1="640.4" y2="640.4" stroke="#EBEBEB" stroke-width="1.3"/><line x1="234.08" x2="234.08" y1="619.1" y2="1104.2" stroke="#EBEBEB" stroke-width="1.3"/><line x1="499.39" x2="499.39" y1="619.1" y2="1104.2" stroke="#EBEBEB" stroke-width="1.3"/><rect x="146.47" y="906.42" width="35.04" height="175.88" fill="#0072B2" fill-opacity="0.5"/><rect x="181.52" y="907.31" width="35.04" height="174.99" fill="#56B4E9" fill-opacity="0.5"/><rect x="216.56" y="913.05" width="35.04" height="169.25" fill="#009E73" fill-opacity="0.5"/><rect x="251.6" y="912.17" width="35.04" height="170.13" fill="#D55E00" fill-opacity="0.5"/><rect x="286.64" y="907.31" width="35.04" height="174.99" fill="#E69F00" fill-opacity="0.5"/><rect x="411.78" y="876.37" width="35.04" height="205.93" fill="#0072B2" fill-opacity="0.5"/><rect x="446.83" y="873.28" width="35.04" height="209.02" fill="#56B4E9" fill-opacity="0.5"/><rect x="481.87" y="837.49" width="35.04" height="244.81" fill="#009E73" fill-opacity="0.5"/><rect x="516.91" y="853.84" width="35.04" height="228.46" fill="#D55E00" fill-opacity="0.5"/><rect x="551.95" y="837.93" width="35.04" height="244.37" fill="#E69F00" fill-opacity="0.5"/><path d="M140.27 898.47H187.72M164 898.47V924.98M140.27 924.98H187.72" stroke="#0072B2" stroke-width="1.25" fill="none"/><path d="M175.31 899.35H222.77M199.04 899.35V939.12M175.31 939.12H222.77" stroke="#56B4E9" stroke-width="1.25" fill="none"/><path d="M210.35 886.1H257.81M234.08 886.1V929.84M210.35 929.84H257.81" stroke="#009E73" stroke-width="1.25" fill="none"/><path d="M245.39 889.63H292.85M269.12 889.63V939.12M245.39 939.12H292.85" stroke="#D55E00" stroke-width="1.25" fill="none"/><path d="M280.44 899.35H327.89M304.16 899.35V939.12M280.44 939.12H327.89" stroke="#E69F00" stroke-width="1.25" fill="none"/><path d="M405.58 841.02H453.03M429.31 841.02V931.61M405.58 931.61H453.03" stroke="#0072B2" stroke-width="1.25" fill="none"/><path d="M440.62 839.7H488.08M464.35 839.7V931.61M440.62 931.61H488.08" stroke="#56B4E9" stroke-width="1.25" fill="none"/><path d="M475.66 767.67H523.12M499.39 767.67V894.93M475.66 894.93H523.12" stroke="#009E73" stroke-width="1.25" fill="none"/><path d="M510.7 814.07H558.16M534.43 814.07V900.24M510.7 900.24H558.16" stroke="#D55E00" stroke-width="1.25" fill="none"/><path d="M545.75 803.02H593.2M569.47 803.02V865.33M545.75 865.33H593.2" stroke="#E69F00" stroke-width="1.25" fill="none"/><g class="m" stroke="#0072B2"><path d="M164 904.77L169.45 893.75L158.54 893.75ZM164 892.17L169.45 903.19L158.54 903.19ZM159.95 894.86L168.05 902.96M159.95 902.96L168.05 894.86M158.27 898.91H169.72M164 893.18V904.64M159.95 901.12H168.05M164 897.07V905.17M160.03 898.92h7.94v7.94h-7.94ZM160.03 898.92L167.96 906.86M160.03 906.86L167.96 898.92M164 898.93L169.72 904.66L164 910.38L158.27 904.66ZM158.27 904.66H169.72M164 898.93V910.38M164 918.47L169.45 909.02L158.54 909.02ZM158.27 918.8H169.72M164 913.07V924.52M164 918.37L169.72 924.1L164 929.83L158.27 924.1ZM164 921.34L169.45 930.78L158.54 930.78Z"/><circle cx="164" cy="901.12" r="4.05"/></g><g class="m" stroke="#56B4E9"><path d="M199.04 905.65L204.49 894.63L193.58 894.63ZM199.04 893.06L204.49 904.08L193.58 904.08ZM194.99 900.24H203.09M199.04 896.19V904.29M195.07 899.36h7.94v7.94h-7.94ZM195.07 899.36L203.01 907.3M195.07 907.3L203.01 899.36M199.04 899.81L204.77 905.54L199.04 911.27L193.31 905.54ZM193.31 905.54H204.77M199.04 899.81V911.27M193.31 909.08H204.77M199.04 903.35V914.8M199.04 920.23L204.49 910.79L193.58 910.79ZM199.04 918.69L204.49 928.13L193.58 928.13ZM199.04 933.4L204.77 939.12L199.04 944.85L193.31 939.12Z"/><circle cx="199.04" cy="900.24" r="4.05"/></g><g class="m" stroke="#009E73"><path d="M234.08 891.95L239.53 880.93L228.63 880.93ZM234.08 879.36L239.53 890.38L228.63 890.38ZM230.03 898.91H238.13M234.08 894.86V902.96M230.11 900.25h7.94v7.94h-7.94ZM230.11 900.25L238.05 908.18M230.11 908.18L238.05 900.25M234.08 904.23L239.81 909.96L234.08 915.69L228.35 909.96ZM228.35 909.96H239.81M234.08 904.23V915.69M234.08 907.32L239.81 913.05L234.08 918.78L228.35 913.05ZM234.08 924.21L239.53 914.76L228.63 914.76ZM234.08 918.69L239.53 928.13L228.63 928.13ZM234.08 937.47L239.53 926.45L228.63 926.45ZM234.08 924.87L239.53 935.89L228.63 935.89ZM228.35 929.84H239.81M234.08 924.12V935.57"/><circle cx="234.08" cy="898.91" r="4.05"/></g><g class="m" stroke="#D55E00"><path d="M269.12 895.93L274.58 884.91L263.67 884.91ZM269.12 883.33L274.58 894.36L263.67 894.36ZM269.12 883.9L274.85 889.63L269.12 895.36L263.39 889.63ZM263.39 889.63H274.85M269.12 883.9V895.36M265.07 894.49H273.17M269.12 890.44V898.54M265.15 895.83h7.94v7.94h-7.94ZM265.15 895.83L273.09 903.76M265.15 903.76L273.09 895.83M263.39 909.08H274.85M269.12 903.35V914.8M269.12 924.21L274.58 914.76L263.67 914.76ZM269.12 919.57L274.58 929.02L263.67 929.02ZM269.12 933.4L274.85 939.12L269.12 944.85L263.39 939.12Z"/><circle cx="269.12" cy="894.49" r="4.05"/></g><g class="m" stroke="#E69F00"><path d="M304.16 905.65L309.62 894.63L298.71 894.63ZM304.16 893.06L309.62 904.08L298.71 904.08ZM300.11 900.24H308.21M304.16 896.19V904.29M300.11 898.84L308.21 906.94M300.11 906.94L308.21 898.84M298.44 902.89H309.89M304.16 897.16V908.62M304.16 898.93L309.89 904.66L304.16 910.38L298.44 904.66ZM298.44 904.66H309.89M304.16 898.93V910.38M298.44 909.08H309.89M304.16 903.35V914.8M304.16 920.23L309.62 910.79L298.71 910.79ZM304.16 918.69L309.62 928.13L298.71 928.13ZM304.16 933.4L309.89 939.12L304.16 944.85L298.44 939.12Z"/><circle cx="304.16" cy="900.24" r="4.05"/></g><g class="m" stroke="#0072B2"><path d="M425.26 836.97L433.36 845.07M425.26 845.07L433.36 836.97M423.58 841.02H435.03M429.31 835.3V846.75M429.31 856.16L434.76 845.14L423.85 845.14ZM429.31 843.56L434.76 854.58L423.85 854.58ZM429.31 876.49L434.76 867.04L423.85 867.04ZM425.34 869.75h7.94v7.94h-7.94ZM425.34 869.75L433.27 877.69M425.34 877.69L433.27 869.75M425.26 878.14H433.36M429.31 874.09V882.19M423.58 888.75H435.03M429.31 883.02V894.48M429.31 893.5L434.76 902.94L423.85 902.94ZM429.31 925.88L435.03 931.61L429.31 937.34L423.58 931.61Z"/><circle cx="429.31" cy="878.14" r="4.05"/></g><g class="m" stroke="#56B4E9"><path d="M460.3 835.65L468.4 843.75M460.3 843.75L468.4 835.65M458.62 839.7H470.08M464.35 833.97V845.42M464.35 856.16L469.8 845.14L458.89 845.14ZM464.35 843.56L469.8 854.58L458.89 854.58ZM460.3 868.42H468.4M464.35 864.37V872.47M460.38 869.75h7.94v7.94h-7.94ZM460.38 869.75L468.32 877.69M460.38 877.69L468.32 869.75M458.62 887.86H470.08M464.35 882.14V893.59M464.35 893.5L469.8 902.94L458.89 902.94ZM464.35 925.88L470.08 931.61L464.35 937.34L458.62 931.61Z"/><circle cx="464.35" cy="868.42" r="4.05"/></g><g class="m" stroke="#009E73"><path d="M493.66 767.67H505.12M499.39 761.94V773.39M495.34 775.11L503.44 783.21M495.34 783.21L503.44 775.11M493.66 779.16H505.12M499.39 773.43V784.88M495.34 805.23H503.44M499.39 801.18V809.28M495.42 829.1h7.94v7.94h-7.94ZM495.42 829.1L503.36 837.04M495.42 837.04L503.36 829.1M499.39 846.44L504.84 835.42L493.94 835.42ZM499.39 833.84L504.84 844.86L493.94 844.86ZM499.39 835.3L505.12 841.02L499.39 846.75L493.66 841.02ZM493.66 841.02H505.12M499.39 835.3V846.75M499.39 865.88L504.84 856.43L493.94 856.43ZM499.39 887.75L504.84 897.2L493.94 897.2Z"/><circle cx="499.39" cy="805.23" r="4.05"/></g><g class="m" stroke="#D55E00"><path d="M530.38 810.02L538.48 818.12M530.38 818.12L538.48 810.02M528.7 814.07H540.16M534.43 808.34V819.79M530.38 826H538.48M534.43 821.95V830.05M534.43 845.55L539.89 834.53L528.98 834.53ZM534.43 832.96L539.89 843.98L528.98 843.98ZM530.46 845.89h7.94v7.94h-7.94ZM530.46 845.89L538.4 853.83M530.46 853.83L538.4 845.89M528.7 856.05H540.16M534.43 850.32V861.77M534.43 880.91L539.89 871.46L528.98 871.46ZM534.43 873.61L539.89 883.06L528.98 883.06ZM534.43 894.51L540.16 900.24L534.43 905.96L528.7 900.24Z"/><circle cx="534.43" cy="826" r="4.05"/></g><g class="m" stroke="#E69F00"><path d="M565.42 798.97L573.52 807.07M565.42 807.07L573.52 798.97M563.75 803.02H575.2M569.47 797.29V808.75M565.42 806.11H573.52M569.47 802.06V810.16M569.47 826.46L575.2 832.18L569.47 837.91L563.75 832.18ZM563.75 832.18H575.2M569.47 826.46V837.91M569.47 845.55L574.93 834.53L564.02 834.53ZM569.47 832.96L574.93 843.98L564.02 843.98ZM565.51 836.17h7.94v7.94h-7.94ZM565.51 836.17L573.44 844.11M565.51 844.11L573.44 836.17M563.75 852.51H575.2M569.47 846.78V858.24M569.47 872.95L574.93 863.5L564.02 863.5Z"/><circle cx="569.47" cy="806.11" r="4.05"/></g><rect x="75.4" y="619.1" width="583.1" height="485.1" fill="none" stroke="#333" stroke-width="0.8"/><line x1="72" x2="75.4" y1="1082.3" y2="1082.3" stroke="#333" stroke-width="1.2"/><text x="69.4" y="1091.5" text-anchor="end" class="tk">0</text><line x1="72" x2="75.4" y1="971.82" y2="971.82" stroke="#333" stroke-width="1.2"/><text x="69.4" y="981.02" text-anchor="end" class="tk">25</text><line x1="72" x2="75.4" y1="861.35" y2="861.35" stroke="#333" stroke-width="1.2"/><text x="69.4" y="870.55" text-anchor="end" class="tk">50</text><line x1="72" x2="75.4" y1="750.88" y2="750.88" stroke="#333" stroke-width="1.2"/><text x="69.4" y="760.08" text-anchor="end" class="tk">75</text><line x1="72" x2="75.4" y1="640.4" y2="640.4" stroke="#333" stroke-width="1.2"/><text x="69.4" y="649.6" text-anchor="end" class="tk">100</text><line x1="234.08" x2="234.08" y1="1104.2" y2="1107.6" stroke="#333" stroke-width="1.2"/><text x="234.08" y="1129" text-anchor="middle" class="tk">2030</text><line x1="499.39" x2="499.39" y1="1104.2" y2="1107.6" stroke="#333" stroke-width="1.2"/><text x="499.39" y="1129" text-anchor="middle" class="tk">2050</text><text x="74.6" y="606.1" class="ti">d) Electricity in buildings final energy demand</text><text transform="translate(18.8 861.95) rotate(-90)" text-anchor="middle" class="yl" textLength="105.8" lengthAdjust="spacingAndGlyphs">Share (%)</text>
<line x1="745.5" x2="1328.5" y1="1034.51" y2="1034.51" stroke="#F3F3F3" stroke-width="1.1"/><line x1="745.5" x2="1328.5" y1="938.94" y2="938.94" stroke="#F3F3F3" stroke-width="1.1"/><line x1="745.5" x2="1328.5" y1="843.38" y2="843.38" stroke="#F3F3F3" stroke-width="1.1"/><line x1="745.5" x2="1328.5" y1="747.8" y2="747.8" stroke="#F3F3F3" stroke-width="1.1"/><line x1="745.5" x2="1328.5" y1="652.23" y2="652.23" stroke="#F3F3F3" stroke-width="1.1"/><line x1="745.5" x2="1328.5" y1="1082.3" y2="1082.3" stroke="#EBEBEB" stroke-width="1.3"/><line x1="745.5" x2="1328.5" y1="986.73" y2="986.73" stroke="#EBEBEB" stroke-width="1.3"/><line x1="745.5" x2="1328.5" y1="891.16" y2="891.16" stroke="#EBEBEB" stroke-width="1.3"/><line x1="745.5" x2="1328.5" y1="795.59" y2="795.59" stroke="#EBEBEB" stroke-width="1.3"/><line x1="745.5" x2="1328.5" y1="700.02" y2="700.02" stroke="#EBEBEB" stroke-width="1.3"/><line x1="904.66" x2="904.66" y1="619" y2="1104.2" stroke="#EBEBEB" stroke-width="1.3"/><line x1="1169.97" x2="1169.97" y1="619" y2="1104.2" stroke="#EBEBEB" stroke-width="1.3"/><rect x="817.05" y="922.41" width="35.04" height="159.89" fill="#0072B2" fill-opacity="0.5"/><rect x="852.1" y="941.33" width="35.04" height="140.97" fill="#56B4E9" fill-opacity="0.5"/><rect x="887.14" y="919.26" width="35.04" height="163.04" fill="#009E73" fill-opacity="0.5"/><rect x="922.18" y="934.84" width="35.04" height="147.46" fill="#D55E00" fill-opacity="0.5"/><rect x="957.22" y="941.33" width="35.04" height="140.97" fill="#E69F00" fill-opacity="0.5"/><rect x="1082.36" y="878.07" width="35.04" height="204.23" fill="#0072B2" fill-opacity="0.5"/><rect x="1117.41" y="890.01" width="35.04" height="192.29" fill="#56B4E9" fill-opacity="0.5"/><rect x="1152.45" y="727.07" width="35.04" height="355.23" fill="#009E73" fill-opacity="0.5"/><rect x="1187.49" y="740.73" width="35.04" height="341.57" fill="#D55E00" fill-opacity="0.5"/><rect x="1222.53" y="690.65" width="35.04" height="391.65" fill="#E69F00" fill-opacity="0.5"/><path d="M810.85 912.47H858.3M834.58 912.47V1082.3M810.85 1082.3H858.3" stroke="#0072B2" stroke-width="1.25" fill="none"/><path d="M845.89 905.97H893.35M869.62 905.97V1082.3M845.89 1082.3H893.35" stroke="#56B4E9" stroke-width="1.25" fill="none"/><path d="M880.93 889.82H928.39M904.66 889.82V1024M880.93 1024H928.39" stroke="#009E73" stroke-width="1.25" fill="none"/><path d="M915.97 822.54H963.43M939.7 822.54V1082.3M915.97 1082.3H963.43" stroke="#D55E00" stroke-width="1.25" fill="none"/><path d="M951.02 905.97H998.47M974.74 905.97V1082.3M951.02 1082.3H998.47" stroke="#E69F00" stroke-width="1.25" fill="none"/><path d="M1076.16 810.5H1123.61M1099.89 810.5V1069.4M1076.16 1069.4H1123.61" stroke="#0072B2" stroke-width="1.25" fill="none"/><path d="M1111.2 782.78H1158.66M1134.93 782.78V1069.4M1111.2 1069.4H1158.66" stroke="#56B4E9" stroke-width="1.25" fill="none"/><path d="M1146.24 640H1193.7M1169.97 640V913.43M1146.24 913.43H1193.7" stroke="#009E73" stroke-width="1.25" fill="none"/><path d="M1181.28 645.55H1228.74M1205.01 645.55V1019.7M1181.28 1019.7H1228.74" stroke="#D55E00" stroke-width="1.25" fill="none"/><path d="M1216.33 648.51H1263.78M1240.05 648.51V1019.7M1216.33 1019.7H1263.78" stroke="#E69F00" stroke-width="1.25" fill="none"/><g class="m" stroke="#0072B2"><path d="M830.61 908.5h7.94v7.94h-7.94ZM830.61 908.5L838.54 916.44M830.61 916.44L838.54 908.5M830.53 917.35H838.63M834.58 913.3V921.4M834.58 921.46L840.3 927.19L834.58 932.92L828.85 927.19ZM828.85 927.19H840.3M834.58 921.46V932.92M834.58 1088.6L840.03 1079.15L829.12 1079.15Z"/><circle cx="834.58" cy="917.35" r="4.05"/></g><g class="m" stroke="#56B4E9"><path d="M865.65 902h7.94v7.94h-7.94ZM865.65 902L873.59 909.94M865.65 909.94L873.59 902M869.62 970.2L875.35 975.93L869.62 981.66L863.89 975.93ZM863.89 975.93H875.35M869.62 970.2V981.66M869.62 1088.6L875.07 1079.15L864.16 1079.15Z"/></g><g class="m" stroke="#009E73"><path d="M900.61 889.82H908.71M904.66 885.77V893.87M900.69 906.88h7.94v7.94h-7.94ZM900.69 906.88L908.63 914.82M900.69 914.82L908.63 906.88M904.66 921.46L910.39 927.19L904.66 932.92L898.93 927.19ZM898.93 927.19H910.39M904.66 921.46V932.92M904.66 1030.3L910.11 1020.85L899.21 1020.85Z"/><circle cx="904.66" cy="889.82" r="4.05"/></g><g class="m" stroke="#D55E00"><path d="M935.65 822.54H943.75M939.7 818.49V826.59M935.73 882.13h7.94v7.94h-7.94ZM935.73 882.13L943.67 890.06M935.73 890.06L943.67 882.13M939.7 977.47L945.43 983.19L939.7 988.92L933.97 983.19ZM933.97 983.19H945.43M939.7 977.47V988.92M939.7 1088.6L945.16 1079.15L934.25 1079.15Z"/><circle cx="939.7" cy="822.54" r="4.05"/></g><g class="m" stroke="#E69F00"><path d="M970.78 902h7.94v7.94h-7.94ZM970.78 902L978.71 909.94M970.78 909.94L978.71 902M974.74 970.2L980.47 975.93L974.74 981.66L969.02 975.93ZM969.02 975.93H980.47M974.74 970.2V981.66M974.74 1088.6L980.2 1079.15L969.29 1079.15Z"/></g><g class="m" stroke="#0072B2"><path d="M1095.92 806.53h7.94v7.94h-7.94ZM1095.92 806.53L1103.85 814.47M1095.92 814.47L1103.85 806.53M1095.84 827.89H1103.94M1099.89 823.84V831.94M1099.89 921.65L1105.61 927.38L1099.89 933.11L1094.16 927.38ZM1094.16 927.38H1105.61M1099.89 921.65V933.11M1099.89 1075.7L1105.34 1066.25L1094.43 1066.25Z"/><circle cx="1099.89" cy="827.89" r="4.05"/></g><g class="m" stroke="#56B4E9"><path d="M1130.96 778.81h7.94v7.94h-7.94ZM1130.96 778.81L1138.9 786.75M1130.96 786.75L1138.9 778.81M1130.88 802.85H1138.98M1134.93 798.8V806.9M1134.93 970.59L1140.66 976.31L1134.93 982.04L1129.2 976.31ZM1129.2 976.31H1140.66M1134.93 970.59V982.04M1134.93 1075.7L1140.38 1066.25L1129.47 1066.25Z"/><circle cx="1134.93" cy="802.85" r="4.05"/></g><g class="m" stroke="#009E73"><path d="M1169.97 634.27L1175.7 640L1169.97 645.73L1164.24 640ZM1164.24 640H1175.7M1169.97 634.27V645.73M1166 703.22h7.94v7.94h-7.94ZM1166 703.22L1173.94 711.16M1166 711.16L1173.94 703.22M1165.92 747.14H1174.02M1169.97 743.09V751.19M1169.97 920.49L1175.42 911.04L1164.52 911.04Z"/><circle cx="1169.97" cy="747.14" r="4.05"/></g><g class="m" stroke="#D55E00"><path d="M1200.96 645.55H1209.06M1205.01 641.5V649.6M1201.04 710.39h7.94v7.94h-7.94ZM1201.04 710.39L1208.98 718.32M1201.04 718.32L1208.98 710.39M1205.01 760.04L1210.74 765.77L1205.01 771.5L1199.28 765.77ZM1199.28 765.77H1210.74M1205.01 760.04V771.5M1205.01 1026L1210.47 1016.55L1199.56 1016.55Z"/><circle cx="1205.01" cy="645.55" r="4.05"/></g><g class="m" stroke="#E69F00"><path d="M1236 648.51H1244.1M1240.05 644.46V652.56M1240.05 672.5L1245.78 678.23L1240.05 683.96L1234.33 678.23ZM1234.33 678.23H1245.78M1240.05 672.5V683.96M1236.09 698.15h7.94v7.94h-7.94ZM1236.09 698.15L1244.02 706.09M1236.09 706.09L1244.02 698.15M1240.05 1026L1245.51 1016.55L1234.6 1016.55Z"/><circle cx="1240.05" cy="648.51" r="4.05"/></g><rect x="745.5" y="619" width="583" height="485.2" fill="none" stroke="#333" stroke-width="0.8"/><line x1="742.1" x2="745.5" y1="1082.3" y2="1082.3" stroke="#333" stroke-width="1.2"/><text x="739.5" y="1091.5" text-anchor="end" class="tk">0</text><line x1="742.1" x2="745.5" y1="986.73" y2="986.73" stroke="#333" stroke-width="1.2"/><text x="739.5" y="995.93" text-anchor="end" class="tk">100</text><line x1="742.1" x2="745.5" y1="891.16" y2="891.16" stroke="#333" stroke-width="1.2"/><text x="739.5" y="900.36" text-anchor="end" class="tk">200</text><line x1="742.1" x2="745.5" y1="795.59" y2="795.59" stroke="#333" stroke-width="1.2"/><text x="739.5" y="804.79" text-anchor="end" class="tk">300</text><line x1="742.1" x2="745.5" y1="700.02" y2="700.02" stroke="#333" stroke-width="1.2"/><text x="739.5" y="709.22" text-anchor="end" class="tk">400</text><line x1="904.66" x2="904.66" y1="1104.2" y2="1107.6" stroke="#333" stroke-width="1.2"/><text x="904.66" y="1129" text-anchor="middle" class="tk">2030</text><line x1="1169.97" x2="1169.97" y1="1104.2" y2="1107.6" stroke="#333" stroke-width="1.2"/><text x="1169.97" y="1129" text-anchor="middle" class="tk">2050</text><text x="744.7" y="606" class="ti">e) Afforestation and reforestation</text><text transform="translate(688.9 861.9) rotate(-90)" text-anchor="middle" class="yl" textLength="97.5" lengthAdjust="spacingAndGlyphs">Million ha</text>
<text x="1493.6" y="667.7" class="lt" textLength="76.2" lengthAdjust="spacingAndGlyphs">model</text><g class="m" stroke="#000"><path d="M1503.5 690.7L1508.95 700.15L1498.05 700.15Z"/></g><text x="1528.8" y="705.6" class="lg">AIM/CGE</text><g class="m" stroke="#000"><path d="M1503.5 728.6L1508.95 719.15L1498.05 719.15Z"/></g><text x="1528.8" y="730.9" class="lg">IMAGE 3.0</text><g class="m" stroke="#000"><path d="M1499.53 743.63h7.94v7.94h-7.94ZM1499.53 743.63L1507.47 751.57M1499.53 751.57L1507.47 743.63"/></g><text x="1528.8" y="756.2" class="lg">MESSAGEix-GLOBIOM_1.0</text><g class="m" stroke="#000"><path d="M1499.45 768.85L1507.55 776.95M1499.45 776.95L1507.55 768.85M1497.77 772.9H1509.23M1503.5 767.17V778.63"/></g><text x="1528.8" y="781.5" class="lg">POLES GECO2019</text><g class="m" stroke="#000"><path d="M1503.5 804.5L1508.95 793.48L1498.05 793.48ZM1503.5 791.9L1508.95 802.92L1498.05 802.92Z"/></g><text x="1528.8" y="806.8" class="lg">PROMETHEUS</text><g class="m" stroke="#000"><path d="M1503.5 817.77L1509.23 823.5L1503.5 829.23L1497.77 823.5ZM1497.77 823.5H1509.23M1503.5 817.77V829.23"/></g><text x="1528.8" y="832.1" class="lg">REMIND-MAgPIE 1.7-3.0</text><g class="m" stroke="#000"><path d="M1503.5 843.07L1509.23 848.8L1503.5 854.53L1497.77 848.8Z"/></g><text x="1528.8" y="857.4" class="lg">TIAM_Grantham_v3.2</text><g class="m" stroke="#000"><path d="M1499.45 874.1H1507.55M1503.5 870.05V878.15"/><circle cx="1503.5" cy="874.1" r="4.05"/></g><text x="1528.8" y="882.7" class="lg">WITCH 5.0</text><g class="m" stroke="#000"><path d="M1497.77 899.4H1509.23M1503.5 893.67V905.13"/></g><text x="1528.8" y="908" class="lg">COPPE-COFFEE 1.1</text><text x="1493.6" y="961.5" class="lt" textLength="113.5" lengthAdjust="spacingAndGlyphs">Category</text><rect x="1494.3" y="978.5" width="18.5" height="23.4" fill="#7FB8D8"/><line x1="1496" x2="1511.6" y1="990.2" y2="990.2" stroke="#0072B2" stroke-width="1.1"/><circle cx="1503.5" cy="990.2" r="3.9" fill="#0072B2"/><text x="1528.8" y="999" class="lg">CurPol</text><rect x="1494.3" y="1003.9" width="18.5" height="23.4" fill="#AAD9F4"/><line x1="1496" x2="1511.6" y1="1015.6" y2="1015.6" stroke="#56B4E9" stroke-width="1.1"/><circle cx="1503.5" cy="1015.6" r="3.9" fill="#56B4E9"/><text x="1528.8" y="1024.4" class="lg">NDCplus</text><rect x="1494.3" y="1029.3" width="18.5" height="23.4" fill="#7FCEB9"/><line x1="1496" x2="1511.6" y1="1041" y2="1041" stroke="#009E73" stroke-width="1.1"/><circle cx="1503.5" cy="1041" r="3.9" fill="#009E73"/><text x="1528.8" y="1049.8" class="lg">Bridge</text><rect x="1494.3" y="1054.7" width="18.5" height="23.4" fill="#EAAE7F"/><line x1="1496" x2="1511.6" y1="1066.4" y2="1066.4" stroke="#D55E00" stroke-width="1.1"/><circle cx="1503.5" cy="1066.4" r="3.9" fill="#D55E00"/><text x="1528.8" y="1075.2" class="lg">2Deg2020</text><rect x="1494.3" y="1080.1" width="18.5" height="23.4" fill="#F2CF7F"/><line x1="1496" x2="1511.6" y1="1091.8" y2="1091.8" stroke="#E69F00" stroke-width="1.1"/><circle cx="1503.5" cy="1091.8" r="3.9" fill="#E69F00"/><text x="1528.8" y="1100.6" class="lg">2Deg2030</text>
</svg>
</body></html>
